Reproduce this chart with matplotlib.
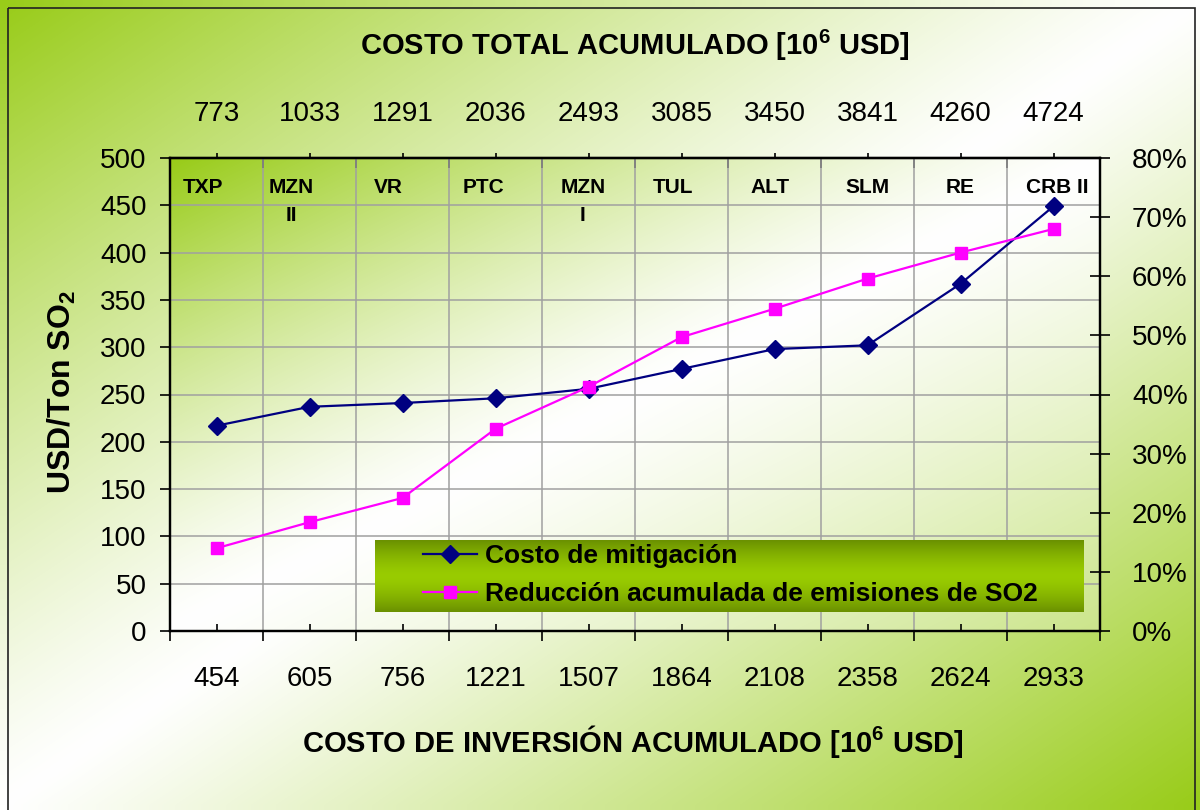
import numpy as np
import matplotlib
matplotlib.use('Agg')
import matplotlib.pyplot as plt
from matplotlib.ticker import PercentFormatter, MultipleLocator

plt.rcParams['font.family'] = ['Liberation Sans', 'DejaVu Sans']
plt.rcParams['mathtext.fontset'] = 'custom'
plt.rcParams['mathtext.rm'] = 'Liberation Sans'
plt.rcParams['mathtext.bf'] = 'Liberation Sans:bold'

# data
plants = ['TXP', 'MZN\nII', 'VR', 'PTC', 'MZN\nI', 'TUL', 'ALT', 'SLM', 'RE', 'CRB II']
inversion_labels = ['454', '605', '756', '1221', '1507', '1864', '2108', '2358', '2624', '2933']
total_labels = ['773', '1033', '1291', '2036', '2493', '3085', '3450', '3841', '4260', '4724']
mitigation_cost = [217, 237, 241, 246, 256, 277, 298, 302, 367, 449]
so2_reduction = [0.140, 0.184, 0.225, 0.342, 0.413, 0.497, 0.545, 0.596, 0.640, 0.680]

# layout
W, H = 1200, 810
plot_box = (170, 1100, 631, 158)  # left, right, bottom, top in px
label_shift = [-0.14, -0.2, -0.15, -0.13, -0.06, -0.09, -0.05, 0.0, 0.0, 0.04]

lime = np.array([0.60, 0.80, 0.10])


def mix(w):
    w = np.clip(w, 0, 1)[..., None]
    return (1 - w) + lime * w


fig = plt.figure(figsize=(W / 100, H / 100), dpi=100)

# background gradients (figure and plot area)
bg = fig.add_axes([0, 0, 1, 1], zorder=-10)
bg.set_axis_off()
yy, xx = np.mgrid[0:1:81j, 0:1:120j]
d = (xx + yy) / 2
w_fig = np.clip(1 - d / 0.5, 0, 1) ** 1.2 + np.clip((d - 0.5) / 0.5, 0, 1) ** 1.1
bg.imshow(mix(w_fig), extent=(0, W, H, 0), aspect='auto', interpolation='bilinear')
w_plot = np.clip(1 - d / 0.5, 0, 1) ** 1.3 + 0.5 * np.clip((d - 0.5) / 0.5, 0, 1) ** 1.2
bg.imshow(mix(w_plot), extent=(plot_box[0], plot_box[1], plot_box[2], plot_box[3]),
          aspect='auto', interpolation='bilinear')
bg.add_patch(plt.Rectangle((8, 8), 1187, 820, fill=False, edgecolor='#222222', linewidth=1.2))
bg.set_xlim(0, W)
bg.set_ylim(H, 0)

ax = fig.add_axes([plot_box[0] / W, 1 - plot_box[2] / H,
                   (plot_box[1] - plot_box[0]) / W, (plot_box[2] - plot_box[3]) / H])
ax.set_facecolor('none')
x = np.arange(len(plants))
bounds = np.arange(len(plants) + 1) - 0.5

line1, = ax.plot(x, mitigation_cost, color='#000080', marker='D', markersize=9, linewidth=1.6,
                 label='Costo de mitigación', zorder=3)

ax2 = ax.twinx()
line2, = ax2.plot(x, so2_reduction, color='#FF00FF', marker='s', markersize=9, linewidth=1.6,
                  label='Reducción acumulada de emisiones de SO2', zorder=3)

# legend with green gradient box
s = np.linspace(0, 1, 60)
wl = np.abs(2 * s - 1) ** 1.5
bright = np.array([0.60, 0.80, 0.0])
dark = np.array([0.42, 0.57, 0.0])
leg_img = (bright * (1 - wl[:, None]) + dark * wl[:, None])[:, None, :].repeat(2, axis=1)
ax2.imshow(leg_img, extent=(0.220, 0.982, 0.040, 0.192), transform=ax2.transAxes,
           aspect='auto', zorder=4, interpolation='bilinear')
leg = ax2.legend([line1, line2], [line1.get_label(), line2.get_label()], loc='center left',
                 bbox_to_anchor=(0.272, 0.118), frameon=False, borderpad=0, borderaxespad=0,
                 prop=dict(weight='bold', size=19), handlelength=2.05, handletextpad=0.3,
                 labelspacing=0.55)
leg.set_zorder(6)

# axes limits and ticks
ax.set_xlim(-0.5, len(plants) - 0.5)
ax.set_ylim(0, 500)
ax2.set_ylim(0, 0.8)

ax.set_xticks(x, labels=inversion_labels)
ax.set_xticks(bounds, minor=True)
ax.yaxis.set_major_locator(MultipleLocator(50))
ax.tick_params(axis='x', which='major', direction='in', length=5, width=1.2, pad=25, labelsize=20)
ax.tick_params(axis='x', which='minor', direction='out', length=7, width=1.2)
ax.tick_params(axis='y', direction='out', length=7, width=1.2, pad=10, labelsize=20)

ax2.yaxis.set_major_locator(MultipleLocator(0.1))
ax2.yaxis.set_major_formatter(PercentFormatter(xmax=1, decimals=0))
ax2.tick_params(axis='y', direction='inout', length=14, width=1.2, pad=16, labelsize=20)

secax = ax.secondary_xaxis('top')
secax.set_xticks(x, labels=total_labels)
secax.set_xticks(bounds, minor=True)
secax.tick_params(which='major', direction='out', length=3.6, width=1.2, pad=19, labelsize=20)
secax.tick_params(which='minor', direction='in', length=7, width=1.2)

ax.grid(which='minor', axis='x', color='#A0A0A0', linewidth=1.1)
ax.grid(which='major', axis='y', color='#A0A0A0', linewidth=1.1)
ax.grid(which='major', axis='x', visible=False)
ax.set_axisbelow(True)

for a in (ax, ax2, secax):
    for sp in a.spines.values():
        sp.set_linewidth(1.6)

# plant labels inside the plot
for i, name in enumerate(plants):
    ax.text(i + label_shift[i], 479, name, ha='center', va='top', fontsize=15,
            fontweight='bold', linespacing=1.6, zorder=5)

fig.text(0.529, 1 - 45 / H, r'COSTO TOTAL ACUMULADO [10$^{\mathbf{6}}$ USD]',
         ha='center', va='center', fontsize=21, fontweight='bold')
fig.text(0.5275, 1 - 742 / H, r'COSTO DE INVERSIÓN ACUMULADO [10$^{\mathbf{6}}$ USD]',
         ha='center', va='center', fontsize=21, fontweight='bold')
fig.text(62 / W, 1 - 392 / H, r'USD/Ton SO$_{\mathbf{2}}$', rotation=90,
         ha='center', va='center', fontsize=23, fontweight='bold')

fig.savefig('out.png', dpi=100)
plt.close(fig)
